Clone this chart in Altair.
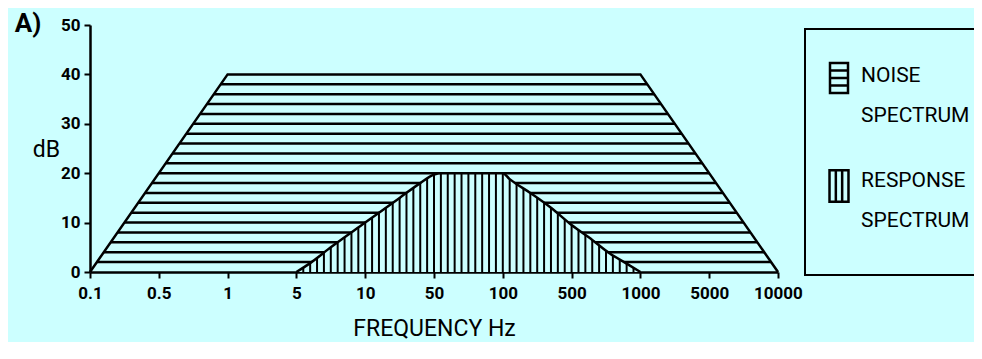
import json
import numpy as np
import pandas as pd
import altair as alt

# ---- data (x positions are in axis-tick units: 0 -> 0.1 Hz ... 10 -> 10000 Hz) ----
freq_labels = ["0.1", "0.5", "1", "5", "10", "50", "100", "500", "1000", "5000", "10000"]
db_ticks = [0, 10, 20, 30, 40, 50]

noise_x = [0, 2, 8, 10]
noise_db = [0, 40, 40, 0]

resp_x = [3.0, 3.2, 3.5, 4.0, 4.5, 4.8, 5.0, 5.1, 6.0, 6.1, 6.4, 6.7, 7.0, 7.3, 7.55, 7.8, 8.0]
resp_db = [0, 1.8, 5.0, 10.0, 15.0, 18.0, 19.7, 20, 20, 18.8, 16.0, 13.0, 9.5, 6.5, 3.8, 1.7, 0]

legend_labels = ["NOISE\nSPECTRUM", "RESPONSE\nSPECTRUM"]
panel_label = "A)"
x_title = "FREQUENCY Hz"
y_title = "dB"

BG = "#ccffff"
FONT = "Roboto, Liberation Sans, sans-serif"

noise_df = pd.DataFrame({"x": noise_x, "db": noise_db})
resp_df = pd.DataFrame({"x": resp_x, "db": resp_db})

# hatching of the noise band (horizontal lines every 2 dB)
levels = np.arange(2, 40, 2.0)
hatch_h = pd.DataFrame({
    "lvl": levels,
    "x1": np.interp(levels, noise_db[:2], noise_x[:2]),
    "x2": np.interp(-levels, [-noise_db[2], -noise_db[3]], noise_x[2:]),
})

# hatching of the response band (vertical lines)
vx = np.round(np.arange(3.1, 8.0, 0.1), 2)
hatch_v = pd.DataFrame({"x": vx, "top": np.interp(vx, resp_x, resp_db)})

xscale = alt.Scale(domain=[0, 10], nice=False, zero=False)
yscale = alt.Scale(domain=[0, 50], nice=False)

label_expr = json.dumps(freq_labels) + "[datum.value]"

x_axis = alt.Axis(
    values=list(range(len(freq_labels))), labelExpr=label_expr, grid=False,
    domainColor="black", domainWidth=2.5, tickColor="black", tickWidth=2, tickSize=6,
    labelFont=FONT, labelFontSize=17, labelFontWeight="bold", labelColor="black", labelPadding=7,
    labelFlush=False, labelOverlap=False,
    title=x_title, titleFont=FONT, titleFontSize=23, titleFontWeight="normal", titleColor="black",
    titleY=56, titleBaseline="middle",
)
y_axis = alt.Axis(
    values=db_ticks, grid=False,
    domainColor="black", domainWidth=2.5, tickColor="black", tickWidth=2, tickSize=6,
    labelFont=FONT, labelFontSize=17, labelFontWeight="bold", labelColor="black", labelPadding=4,
    title=y_title, titleFont=FONT, titleFontSize=23, titleFontWeight="normal", titleColor="black",
    titleAngle=0, titleX=-44, titleY=124, titleAlign="center", titleBaseline="middle",
)

base_x = alt.X("x:Q", scale=xscale, axis=x_axis)
base_y = alt.Y("db:Q", scale=yscale, axis=y_axis)

noise_hatch = alt.Chart(hatch_h).mark_rule(color="black", strokeWidth=2.5).encode(
    x=alt.X("x1:Q", scale=xscale, axis=x_axis), x2="x2:Q",
    y=alt.Y("lvl:Q", scale=yscale, axis=y_axis),
)
noise_line = alt.Chart(noise_df).mark_line(color="black", strokeWidth=2.5).encode(
    x=base_x, y=base_y, order="x:Q"
)
resp_fill = alt.Chart(resp_df).mark_area(color=BG, opacity=1, interpolate="monotone").encode(
    x=base_x, y=base_y
)
resp_hatch = alt.Chart(hatch_v).mark_rule(color="black", strokeWidth=2).encode(
    x=alt.X("x:Q", scale=xscale, axis=x_axis),
    y=alt.Y("top:Q", scale=yscale, axis=y_axis), y2=alt.datum(0),
)
resp_line = alt.Chart(resp_df).mark_line(color="black", strokeWidth=2.5, interpolate="monotone").encode(
    x=base_x, y=base_y
)

one = pd.DataFrame({"k": [0]})

legend_box = alt.Chart(one).mark_rect(fillOpacity=0, stroke="black", strokeWidth=2).encode(
    x=alt.value(715), x2=alt.value(1000), y=alt.value(4), y2=alt.value(250)
)
noise_icon = alt.Chart(one).mark_point(
    shape="M-0.6,-1H0.6V1H-0.6Z M-0.6,-0.5H0.6 M-0.6,0H0.6 M-0.6,0.5H0.6",
    filled=False, color="black", strokeWidth=2.5, size=900, opacity=1,
).encode(x=alt.value(749), y=alt.value(53))
resp_icon = alt.Chart(one).mark_point(
    shape="M-0.6,-1H0.6V1H-0.6Z M-0.2,-1V1 M0.2,-1V1",
    filled=False, color="black", strokeWidth=2.5, size=1000, opacity=1,
).encode(x=alt.value(749), y=alt.value(161))

legend_text_noise = alt.Chart(one).mark_text(
    font=FONT, fontSize=21, lineBreak="\n", lineHeight=40, align="left", baseline="middle", color="black"
).encode(x=alt.value(771), y=alt.value(51), text=alt.value(legend_labels[0]))
legend_text_resp = alt.Chart(one).mark_text(
    font=FONT, fontSize=21, lineBreak="\n", lineHeight=40, align="left", baseline="middle", color="black"
).encode(x=alt.value(771), y=alt.value(156), text=alt.value(legend_labels[1]))

panel_text = alt.Chart(one).mark_text(
    font=FONT, fontSize=26, fontWeight="bold", align="center", baseline="middle", color="black"
).encode(x=alt.value(-62), y=alt.value(-1), text=alt.value(panel_label))

chart = alt.layer(
    noise_hatch, noise_line, resp_fill, resp_hatch, resp_line,
    legend_box, noise_icon, resp_icon, legend_text_noise, legend_text_resp, panel_text,
).properties(
    width=688, height=247,
    padding={"left": 82, "top": 17, "right": 196, "bottom": 70},
    autosize=alt.AutoSizeParams(type="none"),
    background=BG,
).configure_view(stroke=None)

chart.save("out.html", embed_options={"renderer": "svg", "actions": False})
